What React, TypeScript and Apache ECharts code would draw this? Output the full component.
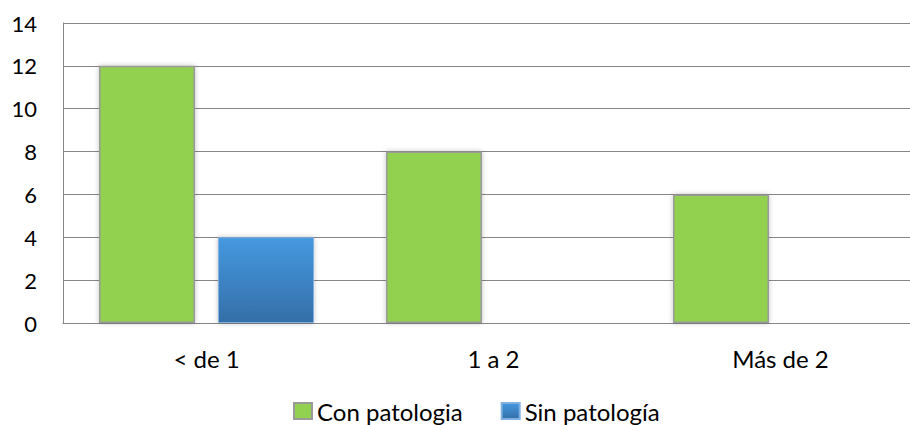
import React, { useEffect, useRef } from "react";
import * as echarts from "echarts";

const categories = ["< de 1", "1 a 2", "Más de 2"];
const conPatologia = [12, 8, 6];
const sinPatologia = [4, 0, 0];
const seriesNames = ["Con patologia", "Sin patología"];
const yTicks = { min: 0, max: 14, interval: 2 };

const FONT = "Lato, 'Open Sans', sans-serif";

export default function App() {
  const ref = useRef<HTMLDivElement>(null);
  useEffect(() => {
    document.body.style.margin = "0";
    document.body.style.overflow = "hidden";
    const chart = echarts.init(ref.current!, null, { renderer: "svg" });
    chart.setOption({
      animation: false,
      backgroundColor: "#ffffff",
      textStyle: { fontFamily: FONT, color: "#000" },
      grid: { left: 63, top: 23, height: 300, width: 861, containLabel: false },
      legend: {
        left: 293,
        top: 398,
        padding: 0,
        itemWidth: 18,
        itemHeight: 16,
        itemGap: 38,
        icon: "rect",
        textStyle: { fontFamily: FONT, fontSize: 24, color: "#000", lineHeight: 26 },
        data: seriesNames,
      },
      xAxis: {
        type: "category",
        data: categories,
        axisLine: { show: true, lineStyle: { color: "#868686", width: 1 } },
        axisTick: { show: false },
        axisLabel: { fontFamily: FONT, fontSize: 24, color: "#000", margin: 23 },
      },
      yAxis: {
        type: "value",
        min: yTicks.min,
        max: yTicks.max,
        interval: yTicks.interval,
        axisLine: { show: true, lineStyle: { color: "#868686", width: 1 } },
        axisTick: { show: false },
        splitLine: { show: true, lineStyle: { color: "#868686", width: 1 } },
        axisLabel: { fontFamily: FONT, fontSize: 22, color: "#000", margin: 26 },
      },
      series: [
        {
          name: seriesNames[0],
          type: "bar",
          data: conPatologia.map((v) => (v === 0 ? "-" : v)),
          barWidth: 96,
          barGap: "24%",
          itemStyle: {
            color: "#92d050",
            borderColor: "#9a9a9a",
            borderWidth: 1.5,
            shadowBlur: 5,
            shadowColor: "rgba(0,0,0,0.25)",
          },
        },
        {
          name: seriesNames[1],
          type: "bar",
          data: sinPatologia.map((v) => (v === 0 ? "-" : v)),
          barWidth: 96,
          itemStyle: {
            color: new echarts.graphic.LinearGradient(0, 0, 0, 1, [
              { offset: 0, color: "#4599e0" },
              { offset: 1, color: "#346ea8" },
            ]),
            borderColor: "#7fb0e0",
            borderWidth: 1,
            shadowBlur: 5,
            shadowColor: "rgba(0,0,0,0.25)",
          },
        },
      ],
    });
    return () => chart.dispose();
  }, []);
  return <div ref={ref} style={{ width: 930, height: 425 }} />;
}
